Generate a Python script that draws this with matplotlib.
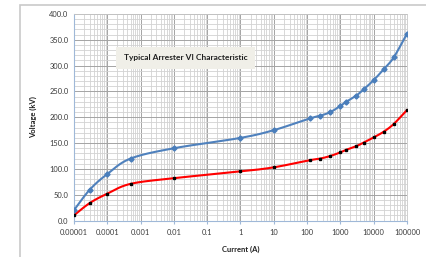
import numpy as np
import matplotlib.pyplot as plt
from matplotlib.ticker import FixedLocator, FixedFormatter, NullFormatter
from matplotlib.patches import Rectangle

# -------------------------------------------------------------------------
# DATA
# -------------------------------------------------------------------------
current_a = [1e-5, 3e-5, 1e-4, 5e-4, 1e-2, 1, 10, 125, 250, 500, 1000,
             1500, 3000, 5000, 10000, 20000, 40000, 100000]
upper_kv = [20, 60, 90, 120, 140, 160, 175, 198, 203, 210, 222,
            230, 242, 254, 272, 293, 316, 362]
lower_kv = [10, 34, 52, 71, 82, 95, 103, 117, 120, 125, 132,
            137, 144, 151, 161, 172, 187, 214]

x_ticks = [1e-5, 1e-4, 1e-3, 1e-2, 1e-1, 1, 10, 100, 1000, 10000, 100000]
x_tick_labels = ["0.00001", "0.0001", "0.001", "0.01", "0.1", "1", "10",
                 "100", "1000", "10000", "100000"]
y_ticks = [0, 50, 100, 150, 200, 250, 300, 350, 400]

TITLE = "Typical Arrester VI Characteristic"
FONT = ["Lato", "DejaVu Sans"]


def smooth(xs, ys, n=30):
    """Excel-like smoothed line (Catmull-Rom Bezier) in log-x space."""
    px = np.log10(np.asarray(xs, float))
    py = np.asarray(ys, float)
    out_x, out_y = [], []
    t = np.linspace(0, 1, n)
    for i in range(len(px) - 1):
        i0 = max(i - 1, 0)
        i3 = min(i + 2, len(px) - 1)
        p0 = np.array([px[i], py[i]])
        p3 = np.array([px[i + 1], py[i + 1]])
        c1 = p0 + (p3 - np.array([px[i0], py[i0]])) / 6
        c2 = p3 - (np.array([px[i3], py[i3]]) - p0) / 6
        pts = ((1 - t) ** 3)[:, None] * p0 + (3 * (1 - t) ** 2 * t)[:, None] * c1 \
            + (3 * (1 - t) * t ** 2)[:, None] * c2 + (t ** 3)[:, None] * p3
        out_x.extend(pts[:, 0])
        out_y.extend(pts[:, 1])
    return 10 ** np.array(out_x), np.array(out_y)


plt.rcParams["font.family"] = FONT

fig = plt.figure(figsize=(4.27, 2.57), dpi=100)
W, H = 427, 257

# chart area frame (spreadsheet style)
fig.patches.append(Rectangle((20 / W, -0.1), 1.2, (H - 5) / H + 0.1,
                             transform=fig.transFigure, fill=False,
                             edgecolor="#c9c9c9", linewidth=1.2))

ax = fig.add_axes([74 / W, 1 - 220.5 / H, (407 - 74) / W, (220.5 - 14) / H])
ax.set_xscale("log")
ax.set_xlim(1e-5, 1e5)
ax.set_ylim(0, 400)

# grid
ax.xaxis.set_major_locator(FixedLocator(x_ticks))
ax.xaxis.set_major_formatter(FixedFormatter(x_tick_labels))
minor_x = [d * m for d in x_ticks[:-1] for m in range(2, 10)]
ax.xaxis.set_minor_locator(FixedLocator(minor_x))
ax.xaxis.set_minor_formatter(NullFormatter())
ax.yaxis.set_major_locator(FixedLocator(y_ticks))
ax.yaxis.set_minor_locator(FixedLocator(np.arange(0, 401, 10)))
ax.set_yticklabels([f"{v:.1f}" for v in y_ticks])

ax.grid(which="minor", color="#d2d2d2", linewidth=0.6)
ax.grid(which="major", color="#a4a4a4", linewidth=0.7)
ax.set_axisbelow(True)

for side in ["top", "right"]:
    ax.spines[side].set_color("#c8c8c8")
    ax.spines[side].set_linewidth(0.6)
for side in ["left", "bottom"]:
    ax.spines[side].set_color("#9fb8d8")
    ax.spines[side].set_linewidth(0.8)

ax.tick_params(which="both", length=0, labelsize=5.4, colors="#3a3a3a", pad=4)
ax.tick_params(axis="x", which="major", length=2, color="#9fb8d8")

# series
sx, sy = smooth(current_a, upper_kv)
ax.plot(sx, sy, color="#4f81bd", linewidth=1.5, zorder=3)
ax.plot(current_a, upper_kv, linestyle="none", marker="D", markersize=2.6,
        color="#4a7ebb", zorder=4)

sx, sy = smooth(current_a, lower_kv)
ax.plot(sx, sy, color="#ff0000", linewidth=1.5, zorder=3)
ax.plot(current_a, lower_kv, linestyle="none", marker="s", markersize=1.9,
        color="black", zorder=4)

ax.set_xlabel("Current (A)", fontsize=5.5, fontweight="bold", color="#202020",
              labelpad=7)
ax.set_ylabel("Voltage (kV)", fontsize=5.5, fontweight="bold", color="#202020",
              labelpad=9)

ax.text(0.335, 0.789, TITLE, transform=ax.transAxes, ha="center", va="center",
        fontsize=6, fontweight="bold", color="#202020", zorder=5,
        bbox=dict(boxstyle="square,pad=0.9", facecolor="#f0efe8",
                  edgecolor="none"))

fig.savefig("out.png", dpi=100)
